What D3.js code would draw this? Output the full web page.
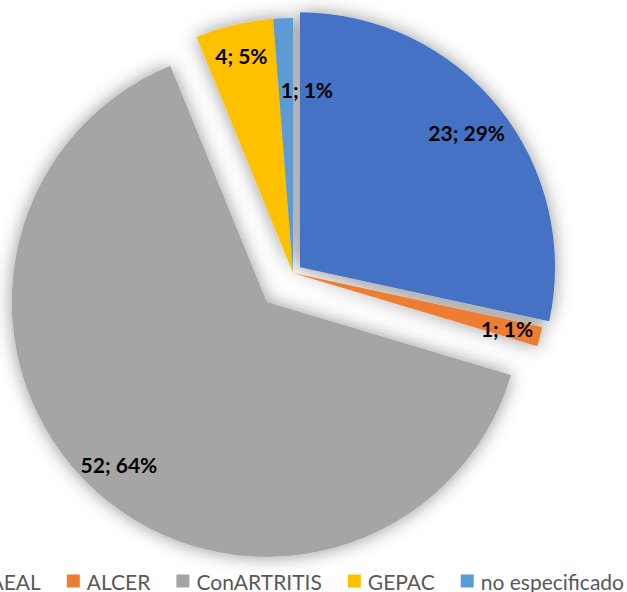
<!DOCTYPE html>
<html>
<head>
<meta charset="utf-8">
<script src="https://cdn.jsdelivr.net/npm/d3@7"></script>
<style>
  html, body { margin: 0; padding: 0; background: #fff; overflow: hidden; }
  svg { display: block; }
</style>
</head>
<body>
<svg id="chart"></svg>
<script>
var categories = ["AEAL", "ALCER", "ConARTRITIS", "GEPAC", "no especificado"];
var values = [23, 1, 52, 4, 1];
var percentLabels = ["29%", "1%", "64%", "5%", "1%"];
var colors = ["#4472C4", "#ED7D31", "#A5A5A5", "#FFC000", "#5B9BD5"];

// how far each slice is pulled out (px), and where its label sits
var explode = [9, 0, 39, 0, 0];
var labelR = [0.84, 0.867, 0.863, 0.878, 0.72];
var labelDx = [0, 0, 0, 0, 21];

var size = { width: 627, height: 592 };
var center = { x: 293, y: 273 };
var radius = 255;

var svg = d3.select('#chart')
  .attr('width', size.width)
  .attr('height', size.height);

var defs = svg.append('defs');
var filter = defs.append('filter')
  .attr('id', 'glow')
  .attr('x', '-30%').attr('y', '-30%')
  .attr('width', '160%').attr('height', '160%');
filter.append('feGaussianBlur')
  .attr('in', 'SourceAlpha')
  .attr('stdDeviation', 9)
  .attr('result', 'blur');
filter.append('feFlood').attr('flood-color', '#000').attr('flood-opacity', 0.42);
filter.append('feComposite').attr('in2', 'blur').attr('operator', 'in').attr('result', 'shadow');
var merge = filter.append('feMerge');
merge.append('feMergeNode').attr('in', 'shadow');
merge.append('feMergeNode').attr('in', 'SourceGraphic');

var pie = d3.pie().sort(null).value(function(d) { return d; });
var arcs = pie(values);

var arc = d3.arc().innerRadius(0).outerRadius(radius);

function offset(d, i, r) {
  var a = (d.startAngle + d.endAngle) / 2;
  return { x: Math.sin(a) * r, y: -Math.cos(a) * r };
}

var g = svg.append('g')
  .attr('transform', 'translate(' + center.x + ',' + center.y + ')');

var slices = g.append('g').attr('filter', 'url(#glow)');

slices.selectAll('path')
  .data(arcs)
  .enter().append('path')
    .attr('d', arc)
    .attr('fill', function(d, i) { return colors[i]; })
    .attr('transform', function(d, i) {
      var o = offset(d, i, explode[i]);
      return 'translate(' + o.x + ',' + o.y + ')';
    });

g.selectAll('text.lbl')
  .data(arcs)
  .enter().append('text')
    .attr('class', 'lbl')
    .attr('x', function(d, i) {
      return offset(d, i, explode[i]).x + offset(d, i, labelR[i] * radius).x + labelDx[i];
    })
    .attr('y', function(d, i) {
      return offset(d, i, explode[i]).y + offset(d, i, labelR[i] * radius).y;
    })
    .attr('text-anchor', 'middle')
    .attr('dominant-baseline', 'central')
    .attr('font-family', 'Lato, "Open Sans", sans-serif')
    .attr('font-weight', 'bold')
    .attr('font-size', 21)
    .attr('fill', '#000')
    .text(function(d, i) { return values[i] + '; ' + percentLabels[i]; });

// legend, right end lines up with the reference
var legendY = 581;
var sq = 13, sqGap = 7, itemGap = 26;
var legend = svg.append('g');
var items = legend.selectAll('g')
  .data(categories)
  .enter().append('g');

items.append('rect')
  .attr('width', sq).attr('height', sq)
  .attr('y', legendY - sq / 2)
  .attr('fill', function(d, i) { return colors[i]; });

items.append('text')
  .attr('x', sq + sqGap)
  .attr('y', legendY)
  .attr('dominant-baseline', 'central')
  .attr('font-family', 'Lato, "Open Sans", sans-serif')
  .attr('font-size', 21)
  .attr('fill', '#595959')
  .text(function(d) { return d; });

var widths = [];
items.each(function() {
  widths.push(sq + sqGap + d3.select(this).select('text').node().getComputedTextLength());
});
var total = d3.sum(widths) + itemGap * (widths.length - 1);
var x = 624 - total;
items.attr('transform', function(d, i) {
  var t = 'translate(' + x + ',0)';
  x += widths[i] + itemGap;
  return t;
});
</script>
</body>
</html>
